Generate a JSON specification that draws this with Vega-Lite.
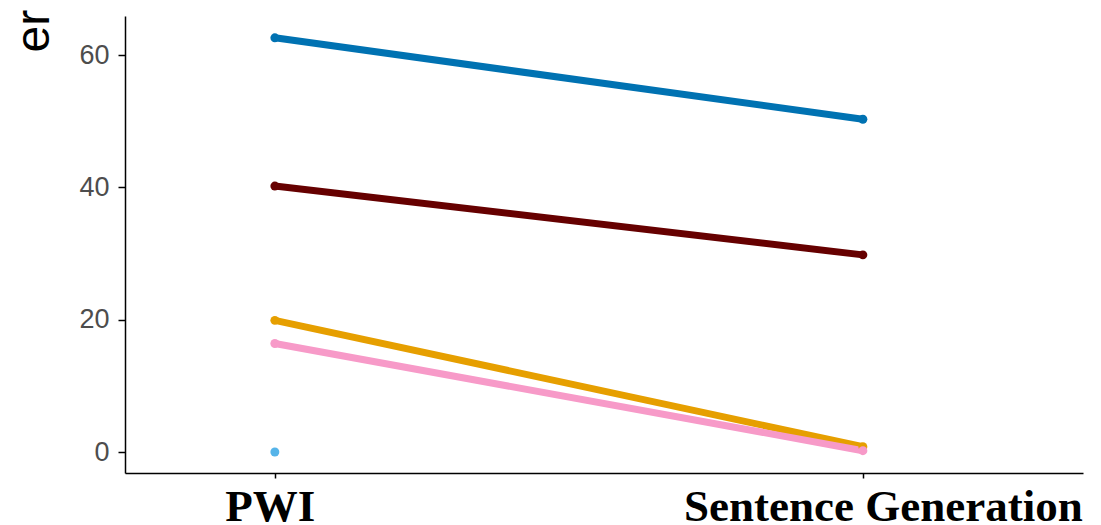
{
  "$schema": "https://vega.github.io/schema/vega-lite/v6.json",
  "width": 958,
  "height": 457,
  "autosize": "none",
  "padding": {"left": 125, "top": 16, "right": 18, "bottom": 52},
  "background": "white",
  "config": {"view": {"stroke": null}},
  "data": {
    "values": [
      {"group": "G1", "task": "PWI", "value": 62.6},
      {"group": "G1", "task": "Sentence Generation", "value": 50.3},
      {"group": "G2", "task": "PWI", "value": 40.2},
      {"group": "G2", "task": "Sentence Generation", "value": 29.8},
      {"group": "G3", "task": "PWI", "value": 19.9},
      {"group": "G3", "task": "Sentence Generation", "value": 0.8},
      {"group": "G4", "task": "PWI", "value": 16.4},
      {"group": "G4", "task": "Sentence Generation", "value": 0.2},
      {"group": "G5", "task": "PWI", "value": 0}
    ]
  },
  "encoding": {
    "x": {
      "field": "task",
      "type": "nominal",
      "sort": ["PWI", "Sentence Generation"],
      "scale": {"type": "point", "padding": 0.3146, "align": 0.405},
      "axis": {
        "title": null,
        "labelAngle": 0,
        "labelLimit": 0,
        "labelFont": "Liberation Serif",
        "labelFontWeight": "bold",
        "labelFontSize": 45,
        "labelColor": "black",
        "labelPadding": 6,
        "labelOffset": {"expr": "datum.value == 'PWI' ? -5 : 20"},
        "tickSize": 5,
        "tickColor": "black",
        "tickWidth": 1.5,
        "domainColor": "black",
        "domainWidth": 1.5,
        "grid": false
      }
    },
    "y": {
      "field": "value",
      "type": "quantitative",
      "scale": {"domain": [-3.17, 65.9], "nice": false, "zero": false},
      "axis": {
        "values": [0, 20, 40, 60],
        "grid": false,
        "labelFont": "Liberation Sans",
        "labelFontSize": 27,
        "labelColor": "#4d4d4d",
        "labelPadding": 9,
        "tickSize": 7,
        "tickColor": "black",
        "tickWidth": 1.5,
        "domainColor": "black",
        "domainWidth": 1.5,
        "title": "er",
        "titleFont": "Liberation Sans",
        "titleFontSize": 48,
        "titleFontWeight": "normal",
        "titleColor": "black",
        "titleAngle": -90,
        "titleAlign": "left",
        "titleBaseline": "alphabetic",
        "titleX": -77,
        "titleY": 36
      }
    },
    "color": {
      "field": "group",
      "type": "nominal",
      "scale": {
        "domain": ["G1", "G2", "G3", "G4", "G5"],
        "range": ["#0072B2", "#660000", "#E69F00", "#F79AC8", "#56B4E9"]
      },
      "legend": null
    }
  },
  "layer": [
    {"mark": {"type": "line", "strokeWidth": 7}},
    {"mark": {"type": "point", "filled": true, "opacity": 1, "size": 80}}
  ]
}
